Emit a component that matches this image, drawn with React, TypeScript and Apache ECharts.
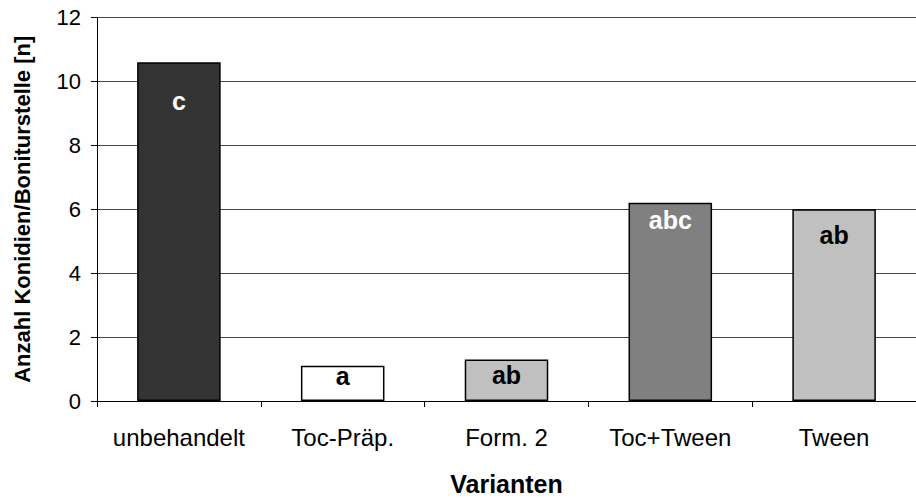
import React, { useEffect, useRef } from "react";
import * as echarts from "echarts";

const categories = ["unbehandelt", "Toc-Präp.", "Form. 2", "Toc+Tween", "Tween"];
const values = [10.6, 1.1, 1.3, 6.2, 6.0];
const letters = ["c", "a", "ab", "abc", "ab"];
const barColors = ["#333333", "#ffffff", "#c0c0c0", "#808080", "#c0c0c0"];
const letterColors = ["#ffffff", "#000000", "#000000", "#ffffff", "#000000"];
const letterOffsets = [21.5, -7.5, -1.5, -0.5, 8.5];

export default function App() {
  const ref = useRef<HTMLDivElement>(null);
  useEffect(() => {
    if (!ref.current) return;
    const chart = echarts.init(ref.current, null, { renderer: "svg" });
    const font = "Arial, 'Liberation Sans', sans-serif";
    chart.setOption({
      animation: false,
      backgroundColor: "#ffffff",
      grid: { left: 97, top: 17.5, bottom: 98.5, width: 827, containLabel: false },
      xAxis: {
        type: "category",
        data: categories,
        name: "Varianten",
        nameLocation: "middle",
        nameGap: 70,
        nameTextStyle: { fontFamily: font, fontWeight: "bold", fontSize: 25, color: "#000" },
        axisLine: { lineStyle: { color: "#000", width: 1 } },
        axisTick: { show: true, length: 6, interval: 0, lineStyle: { color: "#000" } },
        axisLabel: { fontFamily: font, fontSize: 24, color: "#000", margin: 24, interval: 0, hideOverlap: false },
        splitLine: { show: false },
      },
      yAxis: {
        type: "value",
        min: 0,
        max: 12,
        interval: 2,
        name: "Anzahl Konidien/Boniturstelle [n]",
        nameLocation: "middle",
        nameGap: 64,
        nameTextStyle: { fontFamily: font, fontWeight: "bold", fontSize: 22, color: "#000" },
        axisLine: { show: true, lineStyle: { color: "#000", width: 1 } },
        axisTick: { show: true, length: 6, lineStyle: { color: "#000" } },
        axisLabel: { fontFamily: font, fontSize: 22, color: "#000", margin: 16 },
        splitLine: { show: true, lineStyle: { color: "#444", width: 1 } },
      },
      series: [
        {
          type: "bar",
          barWidth: "51%",
          data: values.map((v, i) => ({
            value: v,
            itemStyle: { color: barColors[i], borderColor: "#000", borderWidth: 1.5 },
            label: {
              show: true,
              position: "insideTop",
              distance: 5,
              offset: [0, letterOffsets[i]],
              formatter: letters[i],
              color: letterColors[i],
              fontFamily: font,
              fontWeight: "bold",
              fontSize: 25,
            },
          })),
        },
      ],
    });
    return () => chart.dispose();
  }, []);
  return <div ref={ref} style={{ width: 916, height: 501, position: "absolute", left: 0, top: 0 }} />;
}
